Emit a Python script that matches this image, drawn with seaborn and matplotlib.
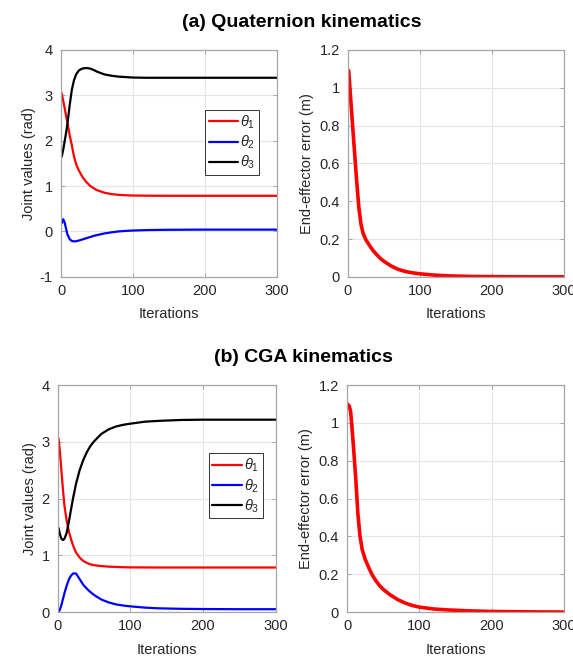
import matplotlib
matplotlib.use("Agg")
import matplotlib.pyplot as plt
import seaborn as sns
import numpy as np
import pandas as pd

# ---------------- data ----------------
iters = [1, 3, 5, 7, 9, 12, 15, 18, 21, 25, 30, 35, 40, 45, 50, 60, 70, 80, 90,
         100, 120, 140, 170, 200, 250, 300]

# (a) Quaternion kinematics
quat_theta1 = [3.04, 2.88, 2.72, 2.55, 2.38, 2.12, 1.90, 1.65, 1.48, 1.335, 1.195,
               1.09, 1.01, 0.953, 0.91, 0.854, 0.823, 0.806, 0.797, 0.791, 0.787,
               0.786, 0.785, 0.785, 0.785, 0.785]
quat_theta2 = [0.18, 0.27, 0.20, 0.06, -0.07, -0.17, -0.21, -0.22, -0.215, -0.20,
               -0.175, -0.15, -0.125, -0.10, -0.08, -0.045, -0.02, 0.0, 0.012, 0.02,
               0.03, 0.035, 0.038, 0.04, 0.04, 0.04]
quat_theta3 = [1.65, 1.80, 1.98, 2.17, 2.38, 2.78, 3.12, 3.33, 3.46, 3.55, 3.59,
               3.60, 3.59, 3.56, 3.52, 3.46, 3.43, 3.41, 3.40, 3.39, 3.385, 3.385,
               3.385, 3.385, 3.385, 3.385]
quat_error = [1.09, 0.98, 0.875, 0.77, 0.665, 0.51, 0.37, 0.28, 0.23, 0.195, 0.165,
              0.138, 0.117, 0.097, 0.082, 0.057, 0.039, 0.028, 0.021, 0.016, 0.009,
              0.005, 0.002, 0.001, 0.0, 0.0]

# (b) CGA kinematics
cga_theta1 = [3.06, 2.80, 2.47, 2.16, 1.88, 1.62, 1.43, 1.29, 1.17, 1.05, 0.96,
              0.90, 0.865, 0.84, 0.825, 0.81, 0.80, 0.795, 0.79, 0.787, 0.786,
              0.785, 0.785, 0.785, 0.785, 0.785]
cga_theta2 = [0.0, 0.05, 0.13, 0.23, 0.33, 0.46, 0.57, 0.64, 0.68, 0.68, 0.58,
              0.48, 0.41, 0.35, 0.30, 0.22, 0.17, 0.135, 0.115, 0.10, 0.078, 0.065,
              0.057, 0.053, 0.05, 0.05]
cga_theta3 = [1.48, 1.36, 1.29, 1.27, 1.29, 1.39, 1.58, 1.80, 2.01, 2.26, 2.50,
              2.68, 2.82, 2.93, 3.01, 3.14, 3.22, 3.27, 3.30, 3.32, 3.355, 3.37,
              3.385, 3.39, 3.39, 3.39]
cga_error = [1.098, 1.09, 1.06, 0.97, 0.87, 0.71, 0.52, 0.40, 0.33, 0.28, 0.235,
             0.195, 0.165, 0.14, 0.12, 0.09, 0.066, 0.048, 0.035, 0.026, 0.016,
             0.011, 0.006, 0.003, 0.001, 0.0]

titles = ["(a) Quaternion kinematics", "(b) CGA kinematics"]
joint_labels = [r"$\theta_1$", r"$\theta_2$", r"$\theta_3$"]
xticks = [0, 100, 200, 300]
joint_yticks_a = [-1, 0, 1, 2, 3, 4]
joint_yticks_b = [0, 1, 2, 3, 4]
err_yticks = [0, 0.2, 0.4, 0.6, 0.8, 1.0, 1.2]
err_yticklabels = ["0", "0.2", "0.4", "0.6", "0.8", "1", "1.2"]

# ---------------- style ----------------
sns.set_theme(style="whitegrid")
plt.rcParams["font.family"] = ["Liberation Sans", "DejaVu Sans"]
plt.rcParams["axes.unicode_minus"] = False
plt.rcParams["mathtext.fontset"] = "custom"
plt.rcParams["mathtext.it"] = "Liberation Sans:italic"
plt.rcParams["mathtext.rm"] = "Liberation Sans"

SPINE = "#a6a6a6"
GRID = "#e6e6e6"
TXT = "#262626"

fig = plt.figure(figsize=(5.73, 6.56), dpi=100)
ax_tl = fig.add_axes([0.1065, 0.578, 0.377, 0.346])
ax_tr = fig.add_axes([0.6073, 0.578, 0.377, 0.346])
ax_bl = fig.add_axes([0.101, 0.067, 0.380, 0.346])
ax_br = fig.add_axes([0.6056, 0.067, 0.379, 0.346])


def style(ax):
    ax.set_facecolor("white")
    for s in ax.spines.values():
        s.set_color(SPINE)
        s.set_linewidth(0.9)
        s.set_visible(True)
    ax.grid(True, color=GRID, linewidth=0.8)
    ax.tick_params(direction="in", length=3, width=0.7, color=SPINE,
                   top=True, right=True, bottom=True, left=True,
                   labelsize=10.5, labelcolor=TXT)
    ax.tick_params(axis="x", pad=5)
    ax.tick_params(axis="y", pad=6)
    ax.set_xlim(0, 300)
    ax.set_xticks(xticks)
    ax.set_xticklabels([str(t) for t in xticks])
    ax.set_xlabel("Iterations", fontsize=10.5, color=TXT, labelpad=7)


def joints(ax, t1, t2, t3, yticks, leg_anchor):
    for vals, col, lab in zip([t1, t2, t3], ["#ff0000", "#0000ff", "#000000"], joint_labels):
        df = pd.DataFrame({"Iterations": iters, "value": vals})
        sns.lineplot(data=df, x="Iterations", y="value", ax=ax, color=col,
                     linewidth=1.6, label=lab)
    style(ax)
    ax.set_ylim(yticks[0], yticks[-1])
    ax.set_yticks(yticks)
    ax.set_yticklabels([str(t) for t in yticks])
    ax.set_ylabel("Joint values (rad)", fontsize=10.5, color=TXT, labelpad=3)
    leg = ax.legend(loc="upper left", bbox_to_anchor=leg_anchor, fontsize=10.5,
                    frameon=True, fancybox=False, handlelength=2.0,
                    handletextpad=0.15, labelspacing=0.2, borderpad=0.25,
                    borderaxespad=0)
    leg.get_frame().set_edgecolor("#333333")
    leg.get_frame().set_linewidth(0.7)
    leg.get_frame().set_alpha(1)


def error(ax, vals):
    df = pd.DataFrame({"Iterations": iters, "err": vals})
    sns.lineplot(data=df, x="Iterations", y="err", ax=ax, color="#ff0000",
                 linewidth=2.6)
    style(ax)
    ax.set_ylim(0, 1.2)
    ax.set_yticks(err_yticks)
    ax.set_yticklabels(err_yticklabels)
    ax.set_ylabel("End-effector error (m)", fontsize=10.5, color=TXT, labelpad=4)


joints(ax_tl, quat_theta1, quat_theta2, quat_theta3, joint_yticks_a, (0.667, 0.736))
error(ax_tr, quat_error)
joints(ax_bl, cga_theta1, cga_theta2, cga_theta3, joint_yticks_b, (0.693, 0.70))
error(ax_br, cga_error)

fig.text(0.527, 0.966, titles[0], ha="center", va="center", fontsize=14,
         fontweight="bold", color="black")
fig.text(0.53, 0.455, titles[1], ha="center", va="center", fontsize=14,
         fontweight="bold", color="black")

fig.savefig("out.png", dpi=100, facecolor="white")
